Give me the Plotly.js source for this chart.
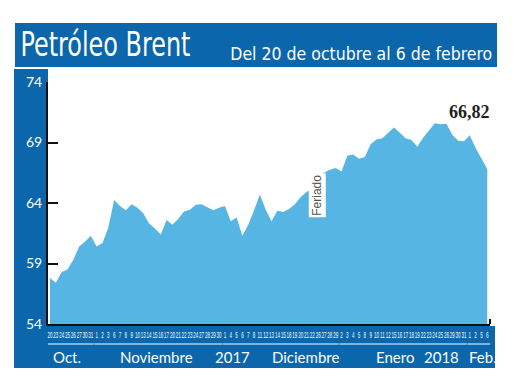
<!DOCTYPE html>
<html>
<head>
<meta charset="utf-8">
<script src="https://cdn.plot.ly/plotly-3.0.1.min.js"></script>
<style>html,body{margin:0;padding:0;background:#fff;}#chart{width:520px;height:390px;}</style>
</head>
<body>
<div id="chart"></div>
<script>
// ---- data ----
const titleText = 'Petróleo Brent';
const subtitleText = 'Del 20 de octubre al 6 de febrero';
const holidayText = 'Feriado';
const dayLabels = [
  '20','23','24','25','26','27','30','31',
  '1','2','3','6','7','8','9','10','13','14','15','16','17','20','21','22','23','24','27','28','29','30',
  '1','4','5','6','7','8','11','12','13','14','15','18','19','20','21','22','26','27','28','29',
  '2','3','4','5','8','9','10','11','12','15','16','17','18','19','22','23','24','25','26','29','30','31',
  '1','2','5','6'
];
const prices = [
  57.8,57.4,58.3,58.5,59.3,60.4,60.8,61.3,
  60.4,60.7,61.95,64.25,63.75,63.4,63.9,63.6,63.15,62.3,61.9,61.4,62.6,62.2,62.7,63.3,63.45,63.85,63.9,63.65,63.4,63.6,
  63.75,62.5,62.8,61.3,62.2,63.4,64.7,63.45,62.5,63.35,63.25,63.5,63.9,64.5,64.9,65.2,66.2,66.5,66.75,66.9,
  66.6,67.9,68.0,67.65,67.8,68.85,69.25,69.35,69.8,70.25,69.8,69.35,69.2,68.65,69.4,70.0,70.6,70.5,70.55,69.65,69.15,69.1,
  69.6,68.55,67.7,66.82
];
const monthNames = ['Oct.','Noviembre','Diciembre','Enero','Feb.'];
const monthDayCounts = [8,22,20,22,4];
const yearLabels = ['2017','2018'];
const yTicks = [54,59,64,69,74];

// ---- layout helpers ----
const W = 520, H = 390;
const M = {l:48, r:30, t:82, b:66};
const pw = W - M.l - M.r, ph = H - M.t - M.b;
const px2x = p => (p - M.l) / pw;
const py2y = p => (H - M.b - p) / ph;
const xIdx = prices.map((_, i) => i);
const unit = 5.83;
const xr = [-2 / unit, (pw - 2) / unit];

const BLUE = '#0b66ab';
const LIGHT = '#56b5e3';
const CONDENSED = '"DejaVu Sans Condensed", "DejaVu Sans", sans-serif';

const shapes = [
  {type:'rect', xref:'paper', yref:'paper', x0:px2x(15), x1:px2x(497), y0:py2y(67), y1:py2y(23), fillcolor:BLUE, line:{width:0}, layer:'below'},
  {type:'rect', xref:'paper', yref:'paper', x0:px2x(14), x1:px2x(48), y0:py2y(368), y1:py2y(69), fillcolor:BLUE, line:{width:0}, layer:'below'},
  {type:'rect', xref:'paper', yref:'paper', x0:px2x(14), x1:px2x(495), y0:py2y(368), y1:py2y(326), fillcolor:BLUE, line:{width:0}, layer:'below'},
  {type:'line', xref:'paper', yref:'paper', x0:1, x1:1, y0:0, y1:py2y(319), line:{color:'#111', width:2}}
];
// month underline segments from the month groupings
let start = 0;
monthDayCounts.forEach(n => {
  shapes.push({type:'line', xref:'x', yref:'paper', x0:start - 0.4, x1:start + n - 1 + 0.5,
    y0:py2y(344), y1:py2y(344), line:{color:'#ffffff', width:1}});
  start += n;
});

const monthFont = {family:'Lato, "Open Sans", sans-serif', size:15, color:'#ffffff'};
const labelPx = [66.7, 156, 305, 395, 482.7];
const yearPx = [232.5, 441.5];
const annotations = [
  {xref:'paper', yref:'paper', x:px2x(105), y:py2y(45), xanchor:'center', yanchor:'middle', showarrow:false,
   text:titleText, font:{family:CONDENSED, size:33, color:'#ffffff'}},
  {xref:'paper', yref:'paper', x:px2x(361), y:py2y(53), xanchor:'center', yanchor:'middle', showarrow:false,
   text:subtitleText, font:{family:CONDENSED, size:18.5, color:'#ffffff'}},
  {xref:'x', yref:'y', x:prices.length - 1, y:71.56, xanchor:'right', yanchor:'middle', xshift:5, showarrow:false,
   text:prices[prices.length - 1].toFixed(2).replace('.', ','), font:{family:'"Liberation Serif", serif', size:18, color:'#231f20', weight:'bold'}},
  {xref:'x', yref:'y', x:45.8, y:64.6, xanchor:'center', yanchor:'middle', showarrow:false, textangle:-90,
   text:holidayText, bgcolor:'#ffffff', borderpad:1, font:{family:'"Liberation Sans", sans-serif', size:12, color:'#555555'}}
];
monthNames.forEach((m, i) => annotations.push({xref:'paper', yref:'paper', x:px2x(labelPx[i]), y:py2y(357),
  xanchor:'center', yanchor:'middle', showarrow:false, text:m, font:monthFont}));
yearLabels.forEach((m, i) => annotations.push({xref:'paper', yref:'paper', x:px2x(yearPx[i]), y:py2y(357),
  xanchor:'center', yanchor:'middle', showarrow:false, text:m, font:monthFont}));

const trace = {
  x: xIdx, y: prices, type:'scatter', mode:'lines', fill:'tozeroy',
  fillcolor: LIGHT, line:{width:0, color:LIGHT}, hoverinfo:'skip'
};

const layout = {
  width: W, height: H, margin: M,
  paper_bgcolor:'#ffffff', plot_bgcolor:'#ffffff',
  showlegend:false,
  xaxis: {range: xr, showgrid:false, zeroline:false, showline:true, linecolor:'#111', linewidth:2,
    tickmode:'array', tickvals: xIdx, ticktext: dayLabels, ticks:'', tickangle:0, ticklabelstandoff:4,
    tickfont:{family:'"Liberation Sans", sans-serif', size:5, color:'#ffffff'}},
  yaxis: {range:[54,74], showgrid:false, zeroline:false, showline:true, linecolor:'#111', linewidth:2,
    tickmode:'array', tickvals:yTicks, ticktext:yTicks.map(String), ticks:'inside', ticklen:10, tickwidth:2, tickcolor:'#111',
    ticklabelstandoff:1, tickfont:{family:'Lato, "Open Sans", sans-serif', size:14, color:'#ffffff'}},
  shapes: shapes,
  annotations: annotations
};

// condense wide texts to the reference widths (glyph compression only)
function condense() {
  const gd = document.getElementById('chart');
  const fit = (sel, len) => {
    const t = gd.querySelector(sel);
    if (t) { t.setAttribute('textLength', len); t.setAttribute('lengthAdjust', 'spacingAndGlyphs'); }
  };
  fit('g.annotation[data-index="0"] text', 170);
  fit('g.annotation[data-index="1"] text', 262);
  // tall, narrow day labels like the reference
  gd.querySelectorAll('g.xtick text').forEach(t => {
    const b = t.getBBox();
    const cx = b.x + b.width / 2, cy = b.y + b.height / 2;
    const prev = t.getAttribute('transform') || '';
    t.setAttribute('transform', prev + ' translate(' + cx + ',' + cy + ') scale(0.9,1.8) translate(' + (-cx) + ',' + (-cy) + ')');
  });
}

Plotly.newPlot('chart', [trace], layout, {staticPlot:true, displayModeBar:false}).then(condense);
</script>
</body>
</html>
